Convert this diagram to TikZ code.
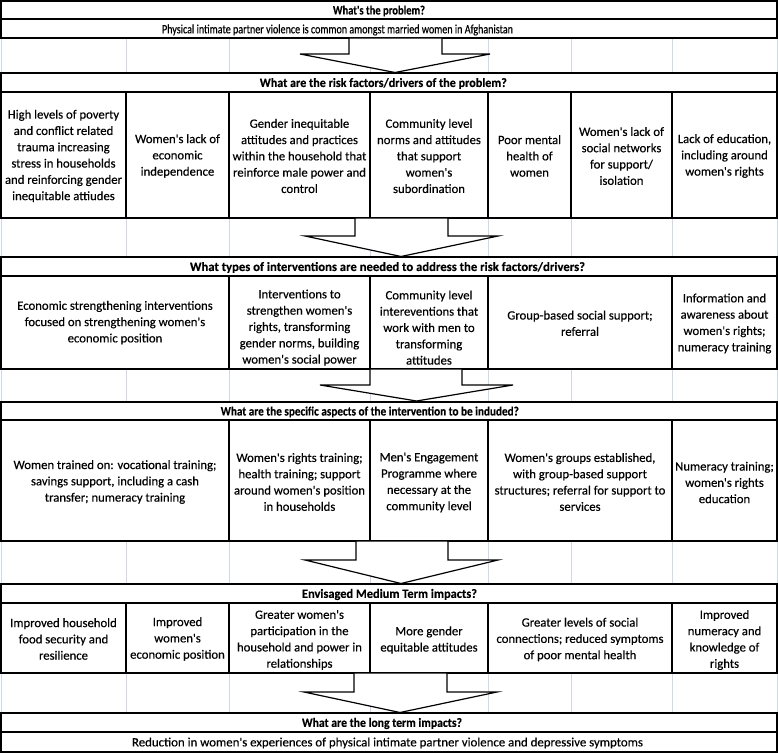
\documentclass[tikz,border=0pt]{standalone}
\usepackage{graphicx}
\usepackage{fontspec}
\setmainfont{Carlito}[Ligatures=TeXOff, UprightFeatures={FakeBold=0.35}, BoldFeatures={FakeBold=0.3}]
\definecolor{gridc}{RGB}{208,215,229}
\newcommand\myarrow[8]{\draw[blockarrow] (#4,#1) -- (#4,#2) -- (#6,#2) -- (#8,#3) -- (#7,#2) -- (#5,#2) -- (#5,#1) -- cycle;}
\newcommand\fitto[2]{\resizebox{#1bp}{\height}{#2}}
\begin{document}
\begin{tikzpicture}[x=1bp,y=-1bp,
  gridln/.style={draw=gridc, line width=0.9bp},
  cellbox/.style={draw=black, line width=1.1bp},
  txt/.style={align=center, inner sep=0pt, font=\fontsize{12.7bp}{16.3bp}\selectfont},
  hdr/.style={align=center, inner sep=0pt, font=\fontsize{12.7bp}{16.3bp}\selectfont\bfseries},
  blockarrow/.style={draw=black, fill=white, line width=1.2bp, line join=miter}]
\useasboundingbox (0,0) rectangle (778,753);
\fill[white] (0,0) rectangle (778,753);
% light grid lines in the gap rows
\foreach \ya/\yb in {38/73, 218/257, 369/402, 541/584, 673/713, 752/753}{
  \foreach \x in {1,126,229,370,488,571,672,777}{
    \draw[gridln] (\x,\ya) -- (\x,\yb);
  }
}
% ---------- row 1 & 2
\draw[cellbox] (1,1) rectangle (777,19);
\node[hdr] (h1) at (379,11) {\fitto{92}{What's the problem?}};
\draw[cellbox] (1,19) rectangle (777,38);
\node[txt] (p1) at (337.5,30) {\fitto{351}{Physical intimate partner violence is common amongst married women in Afghanistan}};
% ---------- row 4 & 5
\draw[cellbox] (1,73) rectangle (777,92);
\node[hdr] (h2) at (383.3,83.5) {\fitto{247}{What are the risk factors/drivers of the problem?}};
\draw[cellbox] (1,92) rectangle (126,218);
\draw[cellbox] (126,92) rectangle (229,218);
\draw[cellbox] (229,92) rectangle (370,218);
\draw[cellbox] (370,92) rectangle (488,218);
\draw[cellbox] (488,92) rectangle (571,218);
\draw[cellbox] (571,92) rectangle (672,218);
\draw[cellbox] (672,92) rectangle (777,218);
\node[txt] (r1) at (63.5,156) {High levels of poverty\\and conflict related\\trauma increasing\\stress in households\\and reinforcing gender\\inequitable attiudes};
\node[txt] (r2) at (177.5,156) {Women's lack of\\economic\\independence};
\node[txt] (r3) at (299.5,156) {Gender inequitable\\attitudes and practices\\within the household that\\reinforce male power and\\control};
\node[txt] (r4) at (429,156) {Community level\\norms and attitudes\\that support\\women's\\subordination};
\node[txt] (r5) at (529.5,156) {Poor mental\\health of\\women};
\node[txt] (r6) at (621.5,156) {Women's lack of\\social networks\\for support/\\isolation};
\node[txt] (r7) at (724.5,156) {Lack of education,\\including around\\women's rights};
% ---------- row 7 & 8
\draw[cellbox] (1,257) rectangle (777,276);
\node[hdr] (h3) at (387.5,267.5) {\fitto{395}{What types of interventions are needed to address the risk factors/drivers?}};
\draw[cellbox] (1,276) rectangle (229,369);
\draw[cellbox] (229,276) rectangle (370,369);
\draw[cellbox] (370,276) rectangle (488,369);
\draw[cellbox] (488,276) rectangle (672,369);
\draw[cellbox] (672,276) rectangle (777,369);
\node[txt] (i1) at (115,322.7) {Economic strengthening interventions\\focused on strengthening women's\\economic position};
\node[txt] (i2) at (299.5,327.6) {Interventions to\\strengthen women's\\rights, transforming\\gender norms, building\\women's social power};
\node[txt] (i3) at (429,327.6) {Community level\\intereventions that\\work with men to\\transforming\\attitudes};
\node[txt] (i4) at (580,323.3) {Group-based social support;\\referral};
\node[txt] (i5) at (724.5,323.5) {Information and\\awareness about\\women's rights;\\numeracy training};
% ---------- row 10 & 11
\draw[cellbox] (1,402) rectangle (777,420);
\node[hdr] (h4) at (369.8,412) {\fitto{298}{What are the specific aspects of the intervention to be induded?}};
\draw[cellbox] (1,420) rectangle (229,541);
\draw[cellbox] (229,420) rectangle (370,541);
\draw[cellbox] (370,420) rectangle (488,541);
\draw[cellbox] (488,420) rectangle (672,541);
\draw[cellbox] (672,420) rectangle (777,541);
\node[txt] (s1) at (115,482) {Women trained on: vocational training;\\savings support, including a cash\\transfer; numeracy training};
\node[txt] (s2) at (299.5,482) {Women's rights training;\\health training; support\\around women's position\\in households};
\node[txt] (s3) at (429,482.5) {Men's Engagement\\Programme where\\necessary at the\\community level};
\node[txt] (s4) at (580,482) {Women's groups established,\\with group-based support\\structures; referral for support to\\services};
\node[txt] (s5) at (724.5,482.5) {Numeracy training;\\women's rights\\education};
% ---------- row 13 & 14
\draw[cellbox] (1,584) rectangle (777,603);
\node[hdr] (h5) at (389.5,594.5) {\fitto{175}{Envisaged Medium Term impacts?}};
\draw[cellbox] (1,603) rectangle (126,673);
\draw[cellbox] (126,603) rectangle (229,673);
\draw[cellbox] (229,603) rectangle (370,673);
\draw[cellbox] (370,603) rectangle (488,673);
\draw[cellbox] (488,603) rectangle (672,673);
\draw[cellbox] (672,603) rectangle (777,673);
\node[txt] (m1) at (63.5,639) {Improved household\\food security and\\resilience};
\node[txt] (m2) at (177.5,639) {Improved\\women's\\economic position};
\node[txt] (m3) at (299.5,640) {Greater women's\\participation in the\\household and power in\\relationships};
\node[txt] (m4) at (429,640) {More gender\\equitable attitudes};
\node[txt] (m5) at (580,639.5) {Greater levels of social\\connections; reduced symptoms\\of poor mental health};
\node[txt] (m6) at (724.5,640) {Improved\\numeracy and\\knowledge of\\rights};
% ---------- row 16 & 17
\draw[cellbox] (1,713) rectangle (777,732);
\node[hdr] (h6) at (382,723.5) {\fitto{160}{What are the long term impacts?}};
\draw[cellbox] (1,732) rectangle (777,752);
\node[txt] (l1) at (387.5,743) {\fitto{511}{Reduction in women's experiences of physical intimate partner violence and depressive symptoms}};
% ---------- block arrows
\myarrow{38}{54}{72.5}{349}{442}{300}{490}{395}
\myarrow{218}{236}{256.5}{355}{448}{305}{498}{401}
\myarrow{369}{385}{401}{370}{462}{320}{513}{416.5}
\myarrow{541}{560}{583.5}{356}{448}{305}{498}{401}
\myarrow{673}{692}{712.5}{354}{447}{304}{497}{400}
\end{tikzpicture}
\end{document}
